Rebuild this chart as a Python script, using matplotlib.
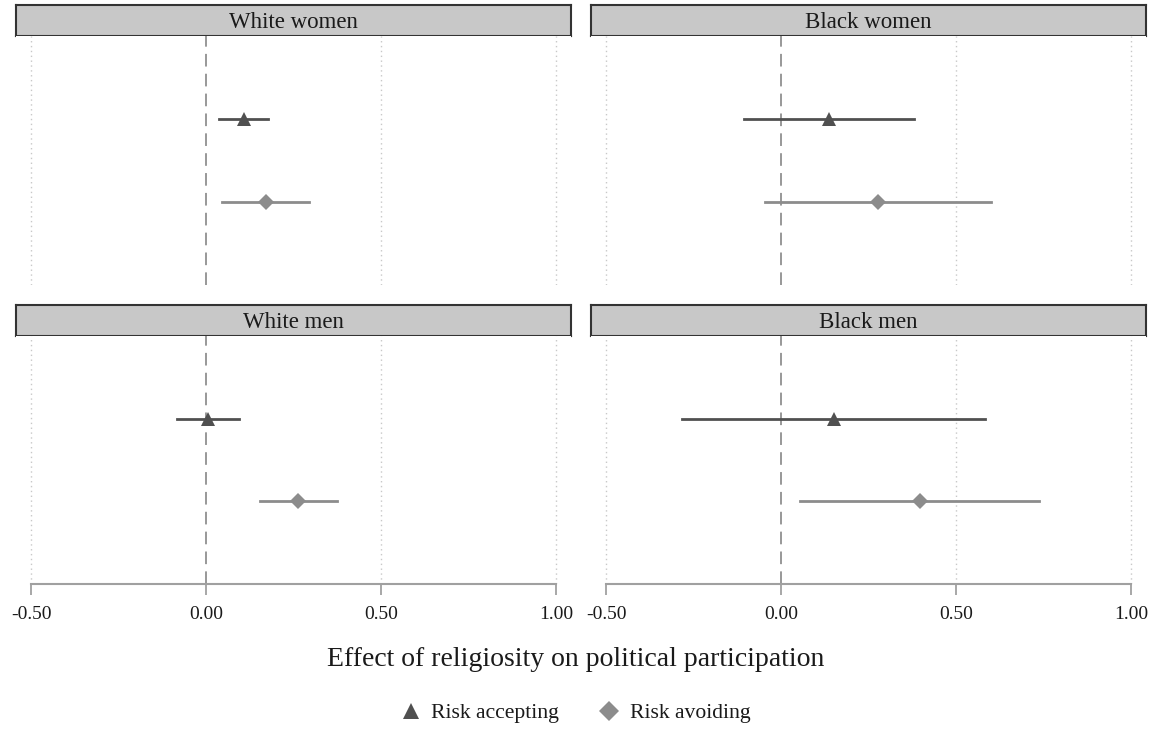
import matplotlib
matplotlib.use("Agg")
import matplotlib.pyplot as plt
from matplotlib.lines import Line2D

# panel titles
panels = ["White women", "Black women", "White men", "Black men"]
groups = ["Risk accepting", "Risk avoiding"]

# point estimates and 95% CI per panel, order: accepting, avoiding
est = {
    "White women": [0.108, 0.170],
    "Black women": [0.137, 0.277],
    "White men": [0.006, 0.263],
    "Black men": [0.151, 0.397],
}
lo = {
    "White women": [0.037, 0.045],
    "Black women": [-0.106, -0.046],
    "White men": [-0.083, 0.154],
    "Black men": [-0.283, 0.054],
}
hi = {
    "White women": [0.177, 0.295],
    "Black women": [0.380, 0.600],
    "White men": [0.094, 0.374],
    "Black men": [0.583, 0.737],
}

xticks = [-0.5, 0.0, 0.5, 1.0]
xtick_labels = ["-0.50", "0.00", "0.50", "1.00"]

colors = ["#505050", "#8c8c8c"]
markers = ["^", "D"]
msizes = [9.5, 8.5]

W, H = 1151, 731
fig = plt.figure(figsize=(W / 100, H / 100), dpi=100)
plt.rcParams["font.family"] = ["Liberation Serif", "DejaVu Serif"]


def px_axes(x0, y0, x1, y1):
    # pixel box (top-left origin) -> figure fraction
    return fig.add_axes([x0 / W, 1 - y1 / H, (x1 - x0) / W, (y1 - y0) / H])


boxes = [
    (16, 5, 571, 36, 285),
    (591, 5, 1146, 36, 285),
    (16, 305, 571, 336, 584),
    (591, 305, 1146, 336, 584),
]

# x limits from pixel positions: -0.5 at 31px, 1.0 at 556px for a 555px panel
xmin = -0.5 - 15 / 350
xmax = 1.0 + 15 / 350

for i, (name, (x0, hy0, x1, hy1, yb)) in enumerate(zip(panels, boxes)):
    # header strip
    hax = px_axes(x0, hy0, x1, hy1)
    hax.set_facecolor("#c8c8c8")
    hax.set_xticks([])
    hax.set_yticks([])
    for s in hax.spines.values():
        s.set_color("#333333")
        s.set_linewidth(1.5)
    hax.text(0.5, 0.45, name, ha="center", va="center", fontsize=16.5,
             color="#1a1a1a", transform=hax.transAxes)

    ax = px_axes(x0, hy1, x1, yb)
    ax.set_xlim(xmin, xmax)
    ax.set_ylim(3, 0)
    for g in [-0.5, 0.5, 1.0]:
        ax.axvline(g, color="#c8c8c8", lw=1, ls=(0, (1, 2.5)), zorder=0)
    ax.axvline(0, color="#909090", lw=1.3, ls=(0, (7, 4)), zorder=1)

    for j in range(2):
        y = j + 1
        ax.plot([lo[name][j], hi[name][j]], [y, y], color=colors[j], lw=2, zorder=2)
        ax.plot(est[name][j], y, marker=markers[j], color=colors[j],
                ms=msizes[j], mew=0, ls="none", zorder=3)

    ax.set_yticks([])
    for s in ["top", "left", "right"]:
        ax.spines[s].set_visible(False)
    if i >= 2:
        ax.spines["bottom"].set_color("#a0a0a0")
        ax.spines["bottom"].set_linewidth(1.5)
        ax.spines["bottom"].set_bounds(-0.5, 1.0)
        ax.set_xticks(xticks)
        ax.set_xticklabels(xtick_labels, fontsize=14, color="#1a1a1a")
        ax.tick_params(axis="x", length=8, width=1.3, color="#a0a0a0", pad=8)
    else:
        ax.spines["bottom"].set_visible(False)
        ax.set_xticks([])

fig.text(576 / W, 1 - 659 / H, "Effect of religiosity on political participation",
         ha="center", va="center", fontsize=20, color="#1a1a1a")

handles = [
    Line2D([], [], marker=markers[j], color=colors[j], ls="none", ms=[11, 10][j], mew=0)
    for j in range(2)
]
fig.legend(handles, groups, loc="center", bbox_to_anchor=(573 / W, 1 - 713 / H),
           ncol=2, frameon=False, fontsize=15.6, handletextpad=0.25,
           columnspacing=1.6, handlelength=1.4, labelcolor="#1a1a1a")

fig.savefig("out.png", dpi=100)
